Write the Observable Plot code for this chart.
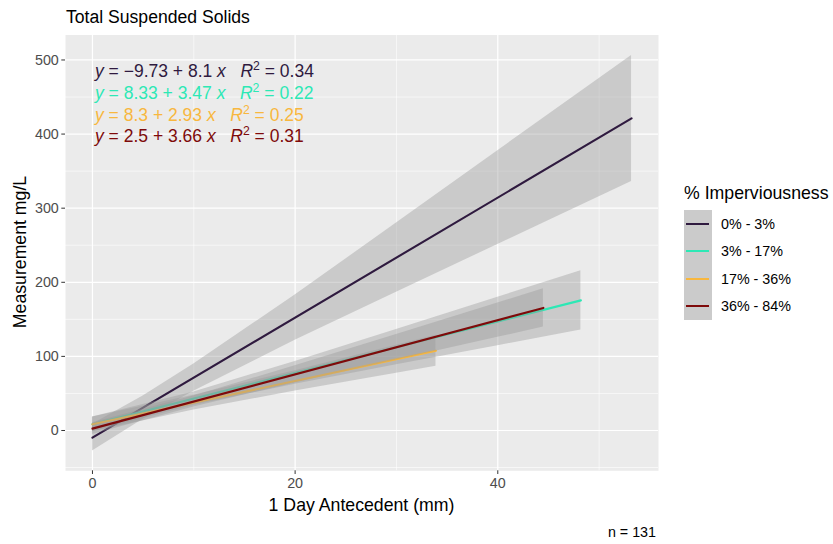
<!DOCTYPE html>
<html><head><meta charset="utf-8">
<script src="https://cdn.jsdelivr.net/npm/d3@7"></script>
<script src="https://cdn.jsdelivr.net/npm/@observablehq/plot@0.6"></script>
<style>
body{margin:0;background:#fff;font-family:"Liberation Sans",Arial,sans-serif;}
#wrap{position:relative;width:833px;height:544px;overflow:hidden;}
#wrap svg{position:absolute;left:0;top:0;}
.t{position:absolute;white-space:nowrap;line-height:1;}
.eq i{font-style:italic;}
</style></head><body><div id="wrap"></div>
<script>
const groups = ["0% - 3%", "3% - 17%", "17% - 36%", "36% - 84%"];
const colors = ["#2F1A3F", "#2DE8B5", "#F8B73E", "#7E0A0A"];
const equations = [
  ["−9.73", "8.1", "0.34"],
  ["8.33", "3.47", "0.22"],
  ["8.3", "2.93", "0.25"],
  ["2.5", "3.66", "0.31"]
];
const caption = "n = 131";
// fitted line end points (x, y)
const fitX = [[0, 53.2], [0, 48.2], [0, 33.9], [0, 44.5]];
const fitY = [[-9.7, 421.2], [8.3, 175.6], [8.3, 107.6], [2.5, 165.4]];
// confidence bands
const bandX = [
  [0, 5, 10, 20, 30, 40, 53.2],
  [0, 10, 20, 30, 40, 48.2],
  [0, 10, 20, 30, 33.9],
  [0, 10, 20, 30, 40, 44.5]
];
const bandLo = [
  [-27.7, 15, 52.9, 121.9, 186.6, 251, 336],
  [-1.7, 33.9, 62.3, 88.6, 114.4, 135.6],
  [-1.7, 27.6, 53.3, 77.4, 86.6],
  [-5.5, 31.6, 64.2, 95.2, 125.7, 139.6]
];
const bandHi = [
  [8.3, 46.6, 89.7, 182.7, 280, 377.6, 506],
  [18.3, 52.1, 93.1, 136.2, 179.8, 215.6],
  [18.3, 47.6, 80.5, 115, 128.6],
  [10.5, 46.6, 87.2, 129.4, 172.1, 191.2]
];
const xTicks = [0, 20, 40];
const xMinor = [10, 30, 50];
const yTicks = [0, 100, 200, 300, 400, 500];
const yMinor = [-50, 50, 150, 250, 350, 450];

const W = 833, H = 544;
const mL = 65, mR = W - 658, mT = 34.5, mB = H - 470.3;
const small = 14.3, big = 17.7;

const marks = [
  Plot.frame({fill: "#EBEBEB", stroke: "none"}),
  Plot.gridY(yMinor, {stroke: "white", strokeOpacity: 1, strokeWidth: 0.6}),
  Plot.gridX(xMinor, {stroke: "white", strokeOpacity: 1, strokeWidth: 0.6}),
  Plot.gridY(yTicks, {stroke: "white", strokeOpacity: 1, strokeWidth: 1.2}),
  Plot.gridX(xTicks, {stroke: "white", strokeOpacity: 1, strokeWidth: 1.2})
];
groups.forEach((g, i) => {
  const band = bandX[i].map((x, j) => ({x, lo: bandLo[i][j], hi: bandHi[i][j]}));
  const line = fitX[i].map((x, j) => ({x, y: fitY[i][j]}));
  marks.push(Plot.areaY(band, {x: "x", y1: "lo", y2: "hi", fill: "#999999", fillOpacity: 0.4}));
  marks.push(Plot.line(line, {x: "x", y: "y", stroke: colors[i], strokeWidth: 2.1}));
});
marks.push(Plot.axisX({ticks: xTicks, tickSize: 3.7, tickPadding: 3, stroke: "#333333", fill: "#4D4D4D", label: null, fontSize: small}));
marks.push(Plot.axisY({ticks: yTicks, tickSize: 3.7, tickPadding: 3, stroke: "#333333", fill: "#4D4D4D", label: null, fontSize: small}));

const chart = Plot.plot({
  width: W, height: H,
  marginLeft: mL, marginRight: mR, marginTop: mT, marginBottom: mB,
  x: {domain: [-2.66, 55.86]},
  y: {domain: [-54.4, 533.7]},
  style: {background: "white", fontFamily: "'Liberation Sans', Arial, sans-serif", fontSize: small + "px"},
  marks
});
const wrap = document.getElementById("wrap");
wrap.appendChild(chart);

function addText(html, left, top, opts = {}) {
  const d = document.createElement("div");
  d.className = "t";
  d.innerHTML = html;
  d.style.left = left + "px";
  d.style.top = top + "px";
  d.style.fontSize = (opts.size || big) + "px";
  d.style.color = opts.color || "#000";
  d.style.transform = opts.transform || "translateY(-50%)";
  if (opts.cls) d.className += " " + opts.cls;
  wrap.appendChild(d);
  return d;
}
addText("Total Suspended Solids", 66, 18, {size: 17.6});
addText("1 Day Antecedent (mm)", 361.5, 506, {transform: "translate(-50%,-50%)"});
addText("Measurement mg/L", 21, 252, {transform: "translate(-50%,-50%) rotate(-90deg)"});
addText(caption, 656, 531.5, {size: small, transform: "translate(-100%,-50%)"});

const eqTops = [72, 94, 115.5, 137];
equations.forEach((e, i) => {
  addText(`<i>y</i> = ${e[0]} + ${e[1]} <i>x</i> &nbsp; <i>R</i><sup style="font-size:0.7em;vertical-align:0.6em;line-height:0">2</sup> = ${e[2]}`,
    95, eqTops[i], {size: 17.5, color: colors[i], cls: "eq"});
});

// legend
addText("% Imperviousness", 684, 194, {});
const box = document.createElement("div");
box.style.cssText = "position:absolute;left:684px;top:210px;width:28px;height:110px;background:#CBCBCB;";
wrap.appendChild(box);
groups.forEach((g, i) => {
  const cy = 210 + 13.75 + i * 27.5;
  const ln = document.createElement("div");
  ln.style.cssText = `position:absolute;left:686px;top:${cy - 1}px;width:23px;height:2.1px;background:${colors[i]};`;
  wrap.appendChild(ln);
  addText(g, 721, cy, {size: small});
});
</script></body></html>
